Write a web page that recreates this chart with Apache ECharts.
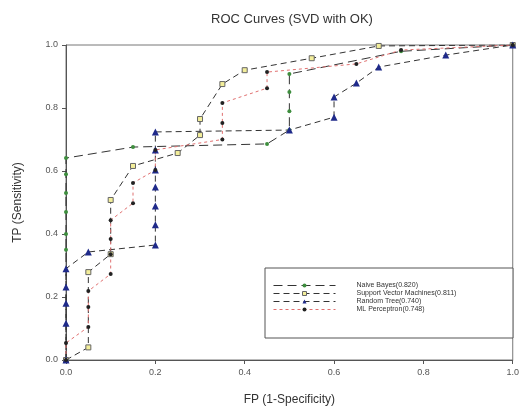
<!DOCTYPE html>
<html><head><meta charset="utf-8">
<script src="https://cdn.jsdelivr.net/npm/echarts@6/dist/echarts.min.js"></script>
<style>html,body{margin:0;padding:0;background:#fff}#c{width:522px;height:415px}</style>
</head><body><div id="c"></div>
<script>
var seriesNames = ["Naive Bayes(0.820)", "Support Vector Machines(0.811)", "Random Tree(0.740)", "ML Perceptron(0.748)"];
var xTicks = [0, 0.2, 0.4, 0.6, 0.8, 1.0];
var yTicks = [0, 0.2, 0.4, 0.6, 0.8, 1.0];
var naiveBayes = [[0,0],[0,0.35],[0,0.40],[0,0.47],[0,0.53],[0,0.59],[0,0.641],[0.15,0.676],[0.45,0.686],[0.5,0.73],[0.5,0.79],[0.5,0.851],[0.5,0.908],[0.75,0.98],[1,1]];
var svm = [[0,0],[0.05,0.04],[0.05,0.279],[0.1,0.336],[0.1,0.508],[0.15,0.616],[0.25,0.657],[0.3,0.714],[0.3,0.765],[0.35,0.876],[0.4,0.92],[0.55,0.958],[0.7,0.997],[1,1]];
var randomTree = [[0,0],[0,0.117],[0,0.18],[0,0.232],[0,0.29],[0.05,0.343],[0.2,0.365],[0.2,0.429],[0.2,0.489],[0.2,0.549],[0.2,0.603],[0.2,0.667],[0.2,0.724],[0.5,0.73],[0.6,0.771],[0.6,0.835],[0.65,0.879],[0.7,0.93],[0.85,0.968],[1,1]];
var mlPerceptron = [[0,0],[0,0.054],[0.05,0.105],[0.05,0.168],[0.05,0.219],[0.1,0.273],[0.1,0.336],[0.1,0.384],[0.1,0.444],[0.15,0.498],[0.15,0.562],[0.2,0.603],[0.2,0.667],[0.35,0.70],[0.35,0.752],[0.35,0.816],[0.45,0.863],[0.45,0.914],[0.65,0.94],[0.75,0.984],[1,1]];

var chart = echarts.init(document.getElementById('c'), null, {renderer: 'canvas'});
var font = 'Liberation Sans, Arial, sans-serif';
function fmt(v){ return v.toFixed(1); }
chart.setOption({
  animation: false,
  title: {text: 'ROC Curves (SVD with OK)', left: 287, top: 8, textAlign: 'center',
    textStyle: {fontFamily: font, fontSize: 13, fontWeight: 'normal', color: '#333'}},
  grid: {left: 66, right: 7, top: 45, bottom: 55, show: true, borderColor: '#777', borderWidth: 1},
  xAxis: {type: 'value', min: 0, max: 1, interval: 0.2,
    name: 'FP (1-Specificity)', nameLocation: 'middle', nameGap: 34,
    nameTextStyle: {fontFamily: font, fontSize: 12, color: '#333'},
    axisLine: {lineStyle: {color: '#555'}}, axisTick: {length: 4, lineStyle: {color: '#555'}},
    axisLabel: {fontFamily: font, fontSize: 9, color: '#555', margin: 8, formatter: fmt, customValues: xTicks},
    splitLine: {show: false}},
  yAxis: {type: 'value', min: 0, max: 1, interval: 0.2,
    name: 'TP (Sensitivity)', nameLocation: 'middle', nameGap: 42,
    nameTextStyle: {fontFamily: font, fontSize: 12, color: '#333'},
    axisLine: {show: true, lineStyle: {color: '#555'}}, axisTick: {show: true, length: 4, lineStyle: {color: '#555'}},
    axisLabel: {fontFamily: font, fontSize: 9, color: '#555', margin: 8, formatter: fmt, customValues: yTicks},
    splitLine: {show: false}},
  graphic: [{type: 'rect', z: 50, shape: {x: 265, y: 268, width: 248, height: 70},
    style: {fill: '#fff', stroke: '#555', lineWidth: 1}}],
  legend: {orient: 'vertical', left: 268, top: 277, z: 60, itemGap: 1, itemWidth: 62, itemHeight: 5,
    lineStyle: {width: 1}, itemStyle: {borderWidth: 1},
    textStyle: {fontFamily: font, fontSize: 7, color: '#333', padding: [0,0,0,16]},
    data: seriesNames},
  series: [
    {name: seriesNames[0], type: 'line', data: naiveBayes, symbol: 'circle', symbolSize: 4,
      lineStyle: {color: '#333', width: 1, type: [9, 5]}, itemStyle: {color: '#3e8e3e'}},
    {name: seriesNames[1], type: 'line', data: svm, symbol: 'rect', symbolSize: 5,
      lineStyle: {color: '#333', width: 1, type: [6, 4]}, itemStyle: {color: '#f3ee9a', borderColor: '#666', borderWidth: 1}},
    {name: seriesNames[2], type: 'line', data: randomTree, symbol: 'triangle', symbolSize: 7,
      lineStyle: {color: '#333', width: 1, type: [6, 4]}, itemStyle: {color: '#1f2a8a'}},
    {name: seriesNames[3], type: 'line', data: mlPerceptron, symbol: 'circle', symbolSize: 4,
      lineStyle: {color: '#e07070', width: 1, type: [3, 3]}, itemStyle: {color: '#222'}}
  ]
});
</script></body></html>
